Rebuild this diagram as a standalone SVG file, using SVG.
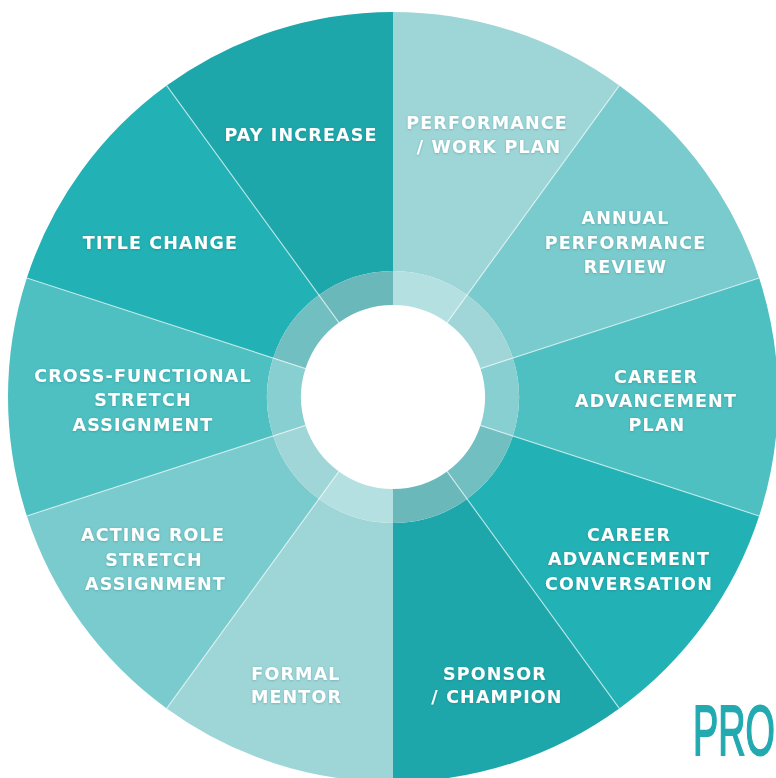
<svg xmlns="http://www.w3.org/2000/svg" width="776" height="778" viewBox="0 0 776 778">
  <defs>
    <filter id="soft" x="-10%" y="-30%" width="120%" height="160%">
      <feDropShadow dx="0" dy="0.6" stdDeviation="1" flood-color="#1f5f62" flood-opacity="0.35"/>
    </filter>
  </defs>
  <style>
    .lbl { font-family: "DejaVu Sans", "Liberation Sans", sans-serif; font-weight: bold; font-size: 17.5px; letter-spacing: 1.15px; fill: #ffffff; text-anchor: middle; filter: url(#soft); }
    .div { stroke: #ffffff; stroke-opacity: 0.6; stroke-width: 1.2; fill: none; }
    .c1 { fill: #9ed6d8; } .r1 { fill: #b5e0e1; }
    .c2 { fill: #7acbcd; } .r2 { fill: #a0d6d8; }
    .c3 { fill: #4ec0c2; } .r3 { fill: #87cfd0; }
    .c4 { fill: #22b1b4; } .r4 { fill: #72bfc1; }
    .c5 { fill: #1ea7aa; } .r5 { fill: #6bb8bb; }
    .brand { font-family: "Liberation Sans", "DejaVu Sans", sans-serif; font-weight: normal; font-size: 70px; fill: #22aab0; stroke: #22aab0; stroke-width: 2px; }
  </style>

  <rect width="776" height="778" fill="#ffffff"/>

  <!-- wheel segments, clockwise from 12 o'clock; centre (393,397) -->
  <g id="performance-work-plan">
    <path class="c1" d="M393,12 A385,385 0 0 1 619.30,85.53 L467.06,295.06 A126,126 0 0 0 393,271 Z"/>
    <path class="r1" d="M393,271 A126,126 0 0 1 467.06,295.06 L447.08,322.57 A92,92 0 0 0 393,305 Z"/>
    <text class="lbl" x="487" y="129">PERFORMANCE</text>
    <text class="lbl" x="489" y="153">/ WORK PLAN</text>
  </g>
  <g id="annual-performance-review">
    <path class="c2" d="M619.30,85.53 A385,385 0 0 1 759.16,278.03 L512.83,358.06 A126,126 0 0 0 467.06,295.06 Z"/>
    <path class="r2" d="M467.06,295.06 A126,126 0 0 1 512.83,358.06 L480.50,368.57 A92,92 0 0 0 447.08,322.57 Z"/>
    <text class="lbl" x="625.5" y="224">ANNUAL</text>
    <text class="lbl" x="625.5" y="248.5">PERFORMANCE</text>
    <text class="lbl" x="625.5" y="273">REVIEW</text>
  </g>
  <g id="career-advancement-plan">
    <path class="c3" d="M759.16,278.03 A385,385 0 0 1 759.16,515.97 L512.83,435.94 A126,126 0 0 0 512.83,358.06 Z"/>
    <path class="r3" d="M512.83,358.06 A126,126 0 0 1 512.83,435.94 L480.50,425.43 A92,92 0 0 0 480.50,368.57 Z"/>
    <text class="lbl" x="656" y="382.5">CAREER</text>
    <text class="lbl" x="656" y="406.5">ADVANCEMENT</text>
    <text class="lbl" x="657" y="430.5">PLAN</text>
  </g>
  <g id="career-advancement-conversation">
    <path class="c4" d="M759.16,515.97 A385,385 0 0 1 619.30,708.47 L467.06,498.94 A126,126 0 0 0 512.83,435.94 Z"/>
    <path class="r4" d="M512.83,435.94 A126,126 0 0 1 467.06,498.94 L447.08,471.43 A92,92 0 0 0 480.50,425.43 Z"/>
    <text class="lbl" x="629" y="540.5">CAREER</text>
    <text class="lbl" x="629" y="565">ADVANCEMENT</text>
    <text class="lbl" x="629" y="589.5">CONVERSATION</text>
  </g>
  <g id="sponsor-champion">
    <path class="c5" d="M619.30,708.47 A385,385 0 0 1 393,782 L393,523 A126,126 0 0 0 467.06,498.94 Z"/>
    <path class="r5" d="M467.06,498.94 A126,126 0 0 1 393,523 L393,489 A92,92 0 0 0 447.08,471.43 Z"/>
    <text class="lbl" x="495" y="679.5">SPONSOR</text>
    <text class="lbl" x="497" y="703">/ CHAMPION</text>
  </g>
  <g id="formal-mentor">
    <path class="c1" d="M393,782 A385,385 0 0 1 166.70,708.47 L318.94,498.94 A126,126 0 0 0 393,523 Z"/>
    <path class="r1" d="M393,523 A126,126 0 0 1 318.94,498.94 L338.92,471.43 A92,92 0 0 0 393,489 Z"/>
    <text class="lbl" x="296" y="679.5">FORMAL</text>
    <text class="lbl" x="296.5" y="703">MENTOR</text>
  </g>
  <g id="acting-role-stretch-assignment">
    <path class="c2" d="M166.70,708.47 A385,385 0 0 1 26.84,515.97 L273.17,435.94 A126,126 0 0 0 318.94,498.94 Z"/>
    <path class="r2" d="M318.94,498.94 A126,126 0 0 1 273.17,435.94 L305.50,425.43 A92,92 0 0 0 338.92,471.43 Z"/>
    <text class="lbl" x="153" y="540.5">ACTING ROLE</text>
    <text class="lbl" x="154" y="565.5">STRETCH</text>
    <text class="lbl" x="155.5" y="589.5">ASSIGNMENT</text>
  </g>
  <g id="cross-functional-stretch-assignment">
    <path class="c3" d="M26.84,515.97 A385,385 0 0 1 26.84,278.03 L273.17,358.06 A126,126 0 0 0 273.17,435.94 Z"/>
    <path class="r3" d="M273.17,435.94 A126,126 0 0 1 273.17,358.06 L305.50,368.57 A92,92 0 0 0 305.50,425.43 Z"/>
    <text class="lbl" x="143" y="381.5">CROSS-FUNCTIONAL</text>
    <text class="lbl" x="143" y="406">STRETCH</text>
    <text class="lbl" x="143" y="430.5">ASSIGNMENT</text>
  </g>
  <g id="title-change">
    <path class="c4" d="M26.84,278.03 A385,385 0 0 1 166.70,85.53 L318.94,295.06 A126,126 0 0 0 273.17,358.06 Z"/>
    <path class="r4" d="M273.17,358.06 A126,126 0 0 1 318.94,295.06 L338.92,322.57 A92,92 0 0 0 305.50,368.57 Z"/>
    <text class="lbl" x="160.5" y="249">TITLE CHANGE</text>
  </g>
  <g id="pay-increase">
    <path class="c5" d="M166.70,85.53 A385,385 0 0 1 393,12 L393,271 A126,126 0 0 0 318.94,295.06 Z"/>
    <path class="r5" d="M318.94,295.06 A126,126 0 0 1 393,271 L393,305 A92,92 0 0 0 338.92,322.57 Z"/>
    <text class="lbl" x="301" y="141">PAY INCREASE</text>
  </g>

  <!-- radial separators between segments -->
  <g id="connectors">
    <line class="div" x1="447.08" y1="322.57" x2="619.30" y2="85.53"/>
    <line class="div" x1="480.50" y1="368.57" x2="759.16" y2="278.03"/>
    <line class="div" x1="480.50" y1="425.43" x2="759.16" y2="515.97"/>
    <line class="div" x1="447.08" y1="471.43" x2="619.30" y2="708.47"/>
    <line class="div" x1="338.92" y1="471.43" x2="166.70" y2="708.47"/>
    <line class="div" x1="305.50" y1="425.43" x2="26.84" y2="515.97"/>
    <line class="div" x1="305.50" y1="368.57" x2="26.84" y2="278.03"/>
    <line class="div" x1="338.92" y1="322.57" x2="166.70" y2="85.53"/>
  </g>

  <!-- brand word, bottom right -->
  <text class="brand" transform="translate(693,755) scale(0.54,1)">PRO</text>
</svg>
